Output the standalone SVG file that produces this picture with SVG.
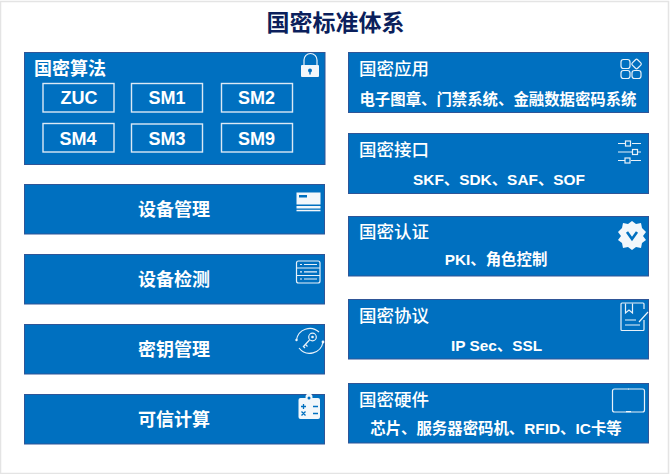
<svg xmlns="http://www.w3.org/2000/svg" width="670" height="474" viewBox="0 0 670 474">
<style>
text{font-family:"Liberation Sans","Noto Sans CJK SC",sans-serif;font-weight:700;fill:#fff;text-anchor:middle}
.p{fill:#0070c0;stroke:#2f5597;stroke-width:1}
.b{fill:none;stroke:#dbe9f5;stroke-width:1.4}
.h{font-size:17.500px;text-anchor:start;font-weight:500}
.hb{font-size:18px;text-anchor:start}
.c{font-size:18px}
.s{font-size:15.400px}
.m{font-size:18px}
.i{fill:none;stroke:#e8f1f9;stroke-width:1.200}
.f{fill:#f2f7fb;stroke:none}
.d{fill:#0070c0;stroke:none}
</style>
<rect width="670" height="474" fill="#fff"/>
<path d="M.5 474V1.500H668.500V473.500H0" fill="none" stroke="#e4e4e4" stroke-width="1.500"/>
<text id="title" x="335.500" y="30.500" font-size="23" style="fill:#0b1f5c">国密标准体系</text>

<g id="algo">
<rect class="p" x="24.500" y="52.500" width="300.500" height="112"/>
<text class="hb" x="34" y="74.500">国密算法</text>
<path class="i" d="M304 66v-6a6.500 6.500 0 0 1 13 0v6" stroke-width="2"/>
<rect class="f" x="301" y="65" width="18" height="12" rx="1"/>
<circle class="d" cx="310" cy="70.500" r="2"/>
<rect class="d" x="309.300" y="71" width="1.400" height="3.500"/>
<g id="zuc"><rect class="b" x="43" y="83.500" width="71" height="28.500"/><text class="m" x="79" y="104">ZUC</text></g>
<g id="sm1"><rect class="b" x="131.500" y="83.500" width="71" height="28.500"/><text class="m" x="167" y="104">SM1</text></g>
<g id="sm2"><rect class="b" x="221.500" y="83.500" width="71" height="28.500"/><text class="m" x="256.500" y="104">SM2</text></g>
<g id="sm4"><rect class="b" x="43" y="123.500" width="71" height="28.500"/><text class="m" x="78" y="145">SM4</text></g>
<g id="sm3"><rect class="b" x="131.500" y="124" width="71" height="28"/><text class="m" x="167" y="145">SM3</text></g>
<g id="sm9"><rect class="b" x="221.500" y="123.500" width="71" height="28.500"/><text class="m" x="256.500" y="145">SM9</text></g>
</g>

<g id="device-mgmt">
<rect class="p" x="24.500" y="184.500" width="300" height="49.500"/>
<text class="c" x="174" y="215.500">设备管理</text>
<rect class="f" x="296.500" y="192.500" width="24" height="12"/>
<rect class="d" x="299" y="195" width="8" height="2.500"/>
<rect class="f" x="296.500" y="206" width="24" height="2.500"/>
<rect class="f" x="296.500" y="209.800" width="24" height="1.500"/>
</g>

<g id="device-test">
<rect class="p" x="24.500" y="254.500" width="300" height="49.500"/>
<text class="c" x="174" y="285.500">设备检测</text>
<rect class="i" x="296.500" y="261" width="23.500" height="22" rx="2"/>
<path class="i" d="M297 268h23M297 275.500h23M304 264.500h13M304 271.800h13M304 279h13M300 264.500h2M300 271.800h2M300 279h2"/>
</g>

<g id="key-mgmt">
<rect class="p" x="24.500" y="324.500" width="300" height="49.500"/>
<text class="c" x="174" y="355.500">密钥管理</text>
<path class="i" d="M296.500 340A13.500 13.500 0 0 1 319 332M323 342A13.500 13.500 0 0 1 299 348" stroke-width="1"/>
<circle class="f" cx="296.500" cy="340" r="1.200"/><circle class="f" cx="323" cy="342" r="1.400"/>
<circle class="i" cx="312.500" cy="337" r="3.800"/><circle class="f" cx="312.500" cy="337" r="1.300"/>
<path class="i" d="M309.500 340L303 347M305.500 344.500l2 2M303.500 346.500l1.500 1.500"/>
</g>

<g id="trusted">
<rect class="p" x="24.500" y="394.500" width="300" height="49.500"/>
<text class="c" x="174" y="425.500">可信计算</text>
<rect class="f" x="298.500" y="398" width="21.500" height="21" rx="2"/>
<circle class="f" cx="309" cy="397" r="3.500"/><circle class="d" cx="309" cy="398" r="1.500"/>
<path d="M301 406.500h5M303.500 404v5M313 406.500h5M301.500 411.500l4 4M305.500 411.500l-4 4M313 413.500h5" fill="none" stroke="#0070c0" stroke-width="1.300"/>
</g>

<g id="app">
<rect class="p" x="348.500" y="52.500" width="300" height="60"/>
<text class="h" x="359" y="74.500">国密应用</text>
<text class="s" x="498" y="105">电子图章、门禁系统、金融数据密码系统</text>
<rect class="i" x="621" y="59.500" width="9" height="9" rx="2.500"/>
<rect class="i" x="621" y="70.500" width="9" height="8" rx="2.500"/>
<rect class="i" x="632" y="70.500" width="9" height="8" rx="2.500"/>
<rect class="i" x="632.800" y="60.200" width="7.500" height="7.500" rx="1.500" transform="rotate(45 636.500 64)"/>
</g>

<g id="iface">
<rect class="p" x="348.500" y="133.500" width="300" height="60"/>
<text class="h" x="359" y="156">国密接口</text>
<text class="s" x="499" y="184.500">SKF、SDK、SAF、SOF</text>
<path class="i" d="M618 143.500h8M632 143.500h9M618 152h15M638 152h3M618 160.500h7M631 160.500h10" stroke-width="1.500"/>
<rect class="i" x="625.500" y="141" width="5" height="5"/><rect class="i" x="632.500" y="149.500" width="5" height="5"/><rect class="i" x="625" y="158" width="5" height="5"/>
</g>

<g id="auth">
<rect class="p" x="348.500" y="216.500" width="300" height="59.500"/>
<text class="h" x="359" y="238">国密认证</text>
<text class="s" x="496" y="265">PKI、角色控制</text>
<path class="f" d="M632 221l4 3 5-1 1 5 4 4-3 4 3 4-4 3-1 5-5-1-4 3-4-3-5 1-1-5-4-3 3-4-3-4 4-4 1-5 5 1z"/>
<path d="M627 232l5 7 5-7" fill="none" stroke="#0070c0" stroke-width="2.600"/>
</g>

<g id="proto">
<rect class="p" x="348.500" y="299.500" width="300" height="59.500"/>
<text class="h" x="359" y="321.500">国密协议</text>
<text class="s" x="496.500" y="350.500">IP Sec、SSL</text>
<path class="i" d="M644 320v9.500a1 1 0 0 1-1 1h-21a1 1 0 0 1-1-1v-25.500a1 1 0 0 1 1-1h21a1 1 0 0 1 1 1v5"/>
<path class="i" d="M625.500 303.500v9.500l3.500-3 3.500 3v-9.500M625 320h11M625 325h15M639 322l9-10" stroke-width="1"/>
</g>

<g id="hw">
<rect class="p" x="348.500" y="383.500" width="300" height="59.500"/>
<text class="h" x="359" y="405.500">国密硬件</text>
<text class="s" x="496" y="434">芯片、服务器密码机、RFID、IC卡等</text>
<rect class="i" x="612.500" y="389" width="32" height="23" rx="2" stroke-width="1.800"/>
<circle class="f" cx="628.500" cy="389" r=".5"/>
<rect class="f" x="626" y="411" width="5" height="1.200"/>
</g>

<g id="connectors"></g>
</svg>
